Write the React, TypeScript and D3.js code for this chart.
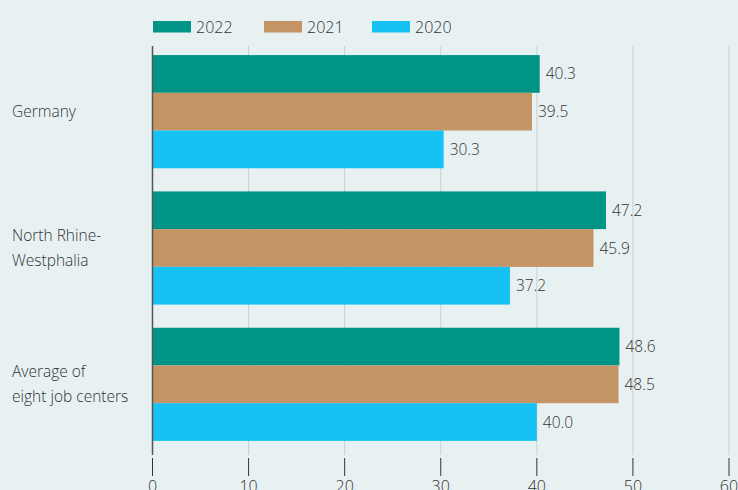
import React from "react";
import * as d3 from "d3";

const categories = ["Germany", "North Rhine-Westphalia", "Average of eight job centers"];
const categoryLines = [["Germany"], ["North Rhine-", "Westphalia"], ["Average of", "eight job centers"]];
const seriesNames = ["2022", "2021", "2020"];
const values2022 = [40.3, 47.2, 48.6];
const values2021 = [39.5, 45.9, 48.5];
const values2020 = [30.3, 37.2, 40.0];
const xTicks = [0, 10, 20, 30, 40, 50, 60];
const colors = ["#009487", "#c49465", "#16c2f3"];

const W = 738, H = 490;
const font = "'Open Sans', 'Noto Sans', sans-serif";
const textColor = "#333333";

export default function App() {
  const series = [values2022, values2021, values2020];
  const x = d3.scaleLinear().domain([0, 60]).range([152.5, 729]);
  const y0 = d3.scaleBand<string>().domain(categories).range([43.5, 452.5]).paddingInner(0.17).paddingOuter(0.085);
  const y1 = d3.scaleBand<string>().domain(seriesNames).range([0, y0.bandwidth()]);
  const legendX = [153, 264, 372];
  return (
    <svg width={W} height={H} style={{ position: "absolute", left: 0, top: 0, background: "#e8f1f2" }} fontFamily={font}>
      <rect width={W} height={H} fill="#e8f1f2" />
      {xTicks.map((t) => (
        <g key={t}>
          <line x1={x(t)} x2={x(t)} y1={46} y2={455} stroke="#c9cfd1" strokeWidth={1} />
          <line x1={x(t)} x2={x(t)} y1={458} y2={476} stroke="#333" strokeWidth={1} />
          <text x={x(t)} y={492} textAnchor="middle" fontSize={16} fill={textColor} fontWeight={300}>{t}</text>
        </g>
      ))}
      {categories.map((c, ci) => (
        <g key={c}>
          {series.map((vals, si) => {
            const yy = (y0(c) as number) + (y1(seriesNames[si]) as number);
            return (
              <g key={si}>
                <rect x={x(0)} y={yy} width={x(vals[ci]) - x(0)} height={y1.bandwidth()} fill={colors[si]} />
                <text x={x(vals[ci]) + 6} y={yy + y1.bandwidth() / 2 + 5.5} fontSize={15.5} fill={textColor} fontWeight={300}>
                  {vals[ci].toFixed(1)}
                </text>
              </g>
            );
          })}
          {categoryLines[ci].map((ln, li) => {
            const cy = (y0(c) as number) + y0.bandwidth() / 2;
            const n = categoryLines[ci].length;
            return (
              <text key={li} x={12} y={cy + 5.5 + (li - (n - 1) / 2) * 25} fontSize={15.5} fill={textColor} fontWeight={300}>{ln}</text>
            );
          })}
        </g>
      ))}
      <line x1={x(0)} x2={x(0)} y1={46} y2={455} stroke="#555" strokeWidth={1.5} />
      {seriesNames.map((s, i) => (
        <g key={s}>
          <rect x={legendX[i]} y={21} width={38} height={11.5} fill={colors[i]} />
          <text x={legendX[i] + 43} y={32.5} fontSize={16} fill={textColor} fontWeight={300}>{s}</text>
        </g>
      ))}
    </svg>
  );
}
